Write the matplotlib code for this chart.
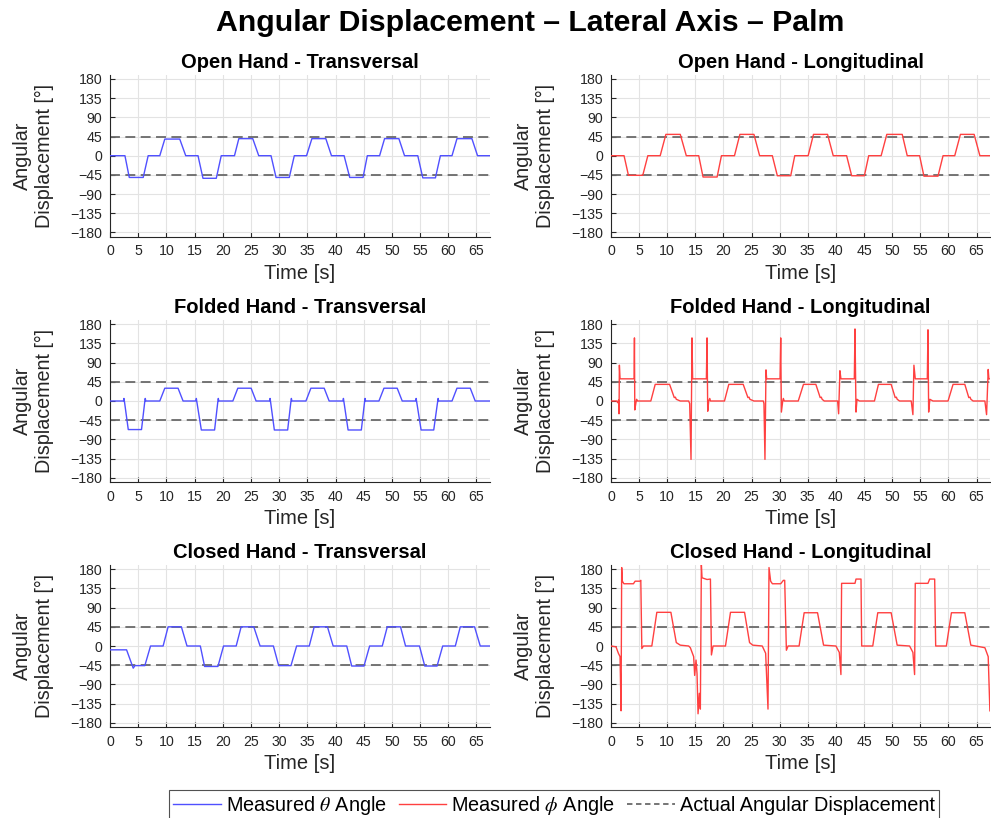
import matplotlib
matplotlib.use("Agg")
import matplotlib.pyplot as plt
from matplotlib.lines import Line2D

plt.rcParams['font.family'] = ['Liberation Sans', 'DejaVu Sans']
plt.rcParams['mathtext.fontset'] = 'stix'
plt.rcParams['axes.unicode_minus'] = True

# ---------------- data ----------------
SUPTITLE = "Angular Displacement \u2013 Lateral Axis \u2013 Palm"
TITLES = ["Open Hand - Transversal", "Open Hand - Longitudinal",
          "Folded Hand - Transversal", "Folded Hand - Longitudinal",
          "Closed Hand - Transversal", "Closed Hand - Longitudinal"]
XTICKS = [0, 5, 10, 15, 20, 25, 30, 35, 40, 45, 50, 55, 60, 65]
YTICKS = [-180, -135, -90, -45, 0, 45, 90, 135, 180]
REF_LEVELS = [45, -45]
LEGEND_LABELS = [r"Measured $\theta$ Angle", r"Measured $\phi$ Angle",
                 "Actual Angular Displacement"]

# Open hand - transversal (theta)
T_OPEN_TRANS = [0, 2.65, 3.42, 5.89, 6.77, 8.83, 9.72, 12.37, 13.43, 15.61, 16.49, 18.85,
                19.73, 22.08, 22.85, 25.32, 26.38, 28.56, 29.45, 31.80, 32.69, 34.86, 35.81,
                38.28, 39.28, 41.52, 42.52, 44.88, 45.64, 47.82, 48.70, 51.24, 52.24, 54.59,
                55.48, 57.72, 58.60, 60.66, 61.54, 64.19, 65.19, 67.4]
V_OPEN_TRANS = [0, 0, -51, -51, 0, 0, 39, 39, 0, 0, -53, -53, 0, 0, 40, 40, 0, 0,
                -51, -51, 0, 0, 40, 40, 0, 0, -51, -51, 0, 0, 40, 40, 0, 0,
                -52, -52, 0, 0, 40, 40, 0, 0]

# Open hand - longitudinal (phi)
T_OPEN_LONG = [0, 2.32, 3.10, 5.65, 6.55, 8.75, 9.76, 12.32, 13.39, 15.60, 16.37, 18.87,
               19.64, 21.96, 22.92, 25.42, 26.43, 28.69, 29.58, 31.96, 32.68, 35.06, 36.01,
               38.51, 39.52, 41.90, 42.80, 45.06, 45.83, 48.04, 49.05, 51.79, 52.68, 54.88,
               55.65, 58.15, 59.05, 61.13, 62.14, 64.58, 65.60, 67.4]
V_OPEN_LONG = [0, 0, -46, -46, 0, 0, 50, 50, 0, 0, -50, -50, 0, 0, 50, 50, 0, 0,
               -47, -47, 0, 0, 50, 50, 0, 0, -47, -47, 0, 0, 50, 50, 0, 0,
               -48, -48, 0, 0, 50, 50, 0, 0]

# Folded hand - transversal (theta)
T_FOLD_TRANS = [0, 2.40, 2.47, 2.55, 3.24, 5.59, 6.18, 6.25, 6.35, 8.83, 9.72, 12.07, 12.96,
                15.24, 15.31, 15.38, 16.20, 18.55, 19.14, 19.21, 19.30, 21.79, 22.67, 25.03, 25.91,
                28.32, 28.39, 28.46, 29.15, 31.51, 32.10, 32.17, 32.26, 34.75, 35.63, 37.99, 38.87,
                41.33, 41.40, 41.47, 42.23, 44.58, 45.17, 45.24, 45.33, 47.70, 48.59, 50.94, 51.83,
                54.23, 54.30, 54.37, 55.18, 57.42, 58.13, 58.20, 58.29, 60.66, 61.54, 63.90, 64.78,
                67.4]
V_FOLD_TRANS = [0, 0, 6, 0, -67, -67, 0, 6, 0, 0, 30, 30, 0,
                0, 6, 0, -68, -68, 0, 6, 0, 0, 30, 30, 0,
                0, 6, 0, -68, -68, 0, 6, 0, 0, 30, 30, 0,
                0, 6, 0, -68, -68, 0, 6, 0, 0, 30, 30, 0,
                0, 6, 0, -68, -68, 0, 6, 0, 0, 30, 30, 0,
                0]

# Folded hand - longitudinal (phi)
T_FOLD_LONG = [0, 1.01, 1.20, 1.35, 1.43, 1.49, 1.61, 3.99, 4.11, 4.17, 4.23, 4.46, 4.55, 4.70,
               7.08, 7.86, 10.42, 11.25, 11.45, 11.61, 12.32, 13.81, 13.99, 14.23, 14.40, 14.52,
               16.96, 17.08, 17.20, 17.38, 17.56, 17.70, 20.18, 20.95, 23.51, 24.35, 24.55, 24.70,
               25.42, 27.08, 27.20, 27.38, 27.56, 27.68, 30.06, 30.18, 30.30, 30.54, 30.65, 30.80,
               33.30, 34.23, 36.43, 37.20, 37.40, 37.55, 37.92, 40.30, 40.48, 40.71, 40.89, 43.27,
               43.39, 43.57, 43.75, 44.17, 46.85, 47.56, 49.82, 50.54, 50.75, 50.90, 51.31, 53.39,
               53.69, 53.87, 54.11, 56.25, 56.37, 56.49, 56.70, 57.26, 59.94, 60.83, 62.92, 63.63,
               63.85, 64.00, 64.40, 66.49, 66.79, 67.08, 67.20, 67.4]
V_FOLD_LONG = [0, 0, -4, 2, -30, 84, 52, 52, 53, 148, -21, -2, 4, 0,
               0, 39, 39, 8, 9, 4, 0, 0, -6, -137, 148, 52,
               52, 148, -24, 0, 6, 0, 0, 39, 39, 8, 9, 4,
               0, 0, -6, -137, 73, 52, 52, 148, -26, 0, 6, 0,
               0, 39, 39, 8, 9, 4, 0, 0, -30, 71, 52, 52,
               169, -26, 4, 0, 0, 39, 39, 8, 9, 4, 0, 0,
               -32, 84, 52, 52, 167, -26, 4, 0, 0, 39, 39, 8,
               9, 4, 0, 0, -32, 74, 52, 52]

# Closed hand - transversal (theta)
T_CLOSED_TRANS = [0, 2.94, 4.12, 4.42, 6.18, 7.19, 9.42, 10.31, 12.66, 13.66, 16.02, 16.78,
                  19.14, 20.14, 22.38, 23.26, 25.50, 26.62, 28.98, 29.92, 32.10, 33.10, 35.34,
                  36.22, 38.57, 39.58, 41.99, 42.87, 45.05, 46.05, 48.29, 49.18, 51.53, 52.42,
                  54.89, 55.83, 58.01, 59.01, 61.25, 62.13, 64.66, 65.67, 67.4]
V_CLOSED_TRANS = [-9, -9, -52, -46, -46, 0, 0, 45, 45, 0, 0, -48,
                  -48, 0, 0, 45, 45, 0, 0, -46, -46, 0, 0,
                  45, 45, 0, 0, -47, -47, 0, 0, 45, 45, 0,
                  0, -47, -47, 0, 0, 45, 45, 0, 0]

# Closed hand - longitudinal (phi)
T_CLOSED_LONG = [0, 0.89, 1.31, 1.61, 1.79, 1.90, 2.02, 2.30, 3.99, 4.29, 5.18, 5.30, 5.48, 5.77,
                 7.26, 8.15, 10.65, 11.61, 12.32, 13.81, 14.11, 14.70, 14.88, 15.12, 15.30, 15.48,
                 15.71, 15.89, 16.07, 16.19, 17.08, 17.68, 17.86, 18.15, 20.36, 21.25, 23.75, 24.64,
                 25.20, 26.90, 27.50, 27.92, 28.10, 28.39, 28.70, 30.18, 30.65, 30.89, 31.19, 31.49,
                 33.45, 34.35, 36.73, 37.80, 40.00, 40.60, 40.89, 41.01, 43.39, 43.57, 44.46, 44.58,
                 46.55, 47.44, 49.82, 50.89, 53.10, 53.69, 53.99, 54.11, 56.37, 56.67, 57.56, 57.74,
                 59.64, 60.54, 62.92, 63.99, 66.49, 67.08, 67.38]
V_CLOSED_LONG = [0, -2, -17, -25, -152, 184, 152, 146, 146, 152, 152, 154, -6, 0,
                 0, 79, 79, 8, 2, 0, -4, -25, -69, -33, -65, -159,
                 -111, -148, 190, 160, 156, 157, -21, 0, 0, 79, 79, 8,
                 2, 0, -17, -148, 184, 152, 146, 146, 154, 154, -10, 0,
                 0, 78, 78, 2, 0, -15, -67, 147, 147, 157, 157, 0,
                 0, 78, 78, 2, 0, -15, -67, 147, 147, 157, 157, 0,
                 0, 78, 78, 2, -4, -25, -152]

SERIES = [(T_OPEN_TRANS, V_OPEN_TRANS, 'theta'), (T_OPEN_LONG, V_OPEN_LONG, 'phi'),
          (T_FOLD_TRANS, V_FOLD_TRANS, 'theta'), (T_FOLD_LONG, V_FOLD_LONG, 'phi'),
          (T_CLOSED_TRANS, V_CLOSED_TRANS, 'theta'), (T_CLOSED_LONG, V_CLOSED_LONG, 'phi')]

# ---------------- styling ----------------
W, H = 991, 818
BLUE = '#5050ff'
RED = '#ff4040'
DASH = '#6a6a6a'
AXC = '#262626'
GRIDC = '#e3e3e3'

fig = plt.figure(figsize=(W / 100, H / 100), dpi=100)

col_left = [110 / W, 611 / W]
col_width = [380 / W, 379 / W]
row_top_px = [74.7, 320.0, 565.0]
ax_h_px = 162.0

for i, (t, v, kind) in enumerate(SERIES):
    r, c = divmod(i, 2)
    bottom = 1 - (row_top_px[r] + ax_h_px) / H
    ax = fig.add_axes([col_left[c], bottom, col_width[c], ax_h_px / H])
    ax.plot(t, v, color=BLUE if kind == 'theta' else RED, lw=1.0, zorder=3)
    for lvl in REF_LEVELS:
        ax.axhline(lvl, color=DASH, lw=1.3, dashes=(5.5, 3), zorder=2)
    ax.set_xlim(0, 67.4)
    ax.set_ylim(-190, 190)
    ax.set_xticks(XTICKS)
    ax.set_yticks(YTICKS)
    ax.grid(True, color=GRIDC, lw=0.8, zorder=0)
    ax.set_axisbelow(True)
    for s in ['top', 'right']:
        ax.spines[s].set_visible(False)
    for s in ['left', 'bottom']:
        ax.spines[s].set_color(AXC)
        ax.spines[s].set_linewidth(0.8)
    ax.tick_params(direction='in', length=3.5, width=0.8, color=AXC,
                   labelcolor=AXC, labelsize=10.2, pad=5.5)
    ax.set_title(TITLES[i], fontsize=14.5, fontweight='bold', pad=5, color='black')
    ax.set_xlabel("Time [s]", fontsize=14.5, color=AXC, labelpad=4)
    ax.set_ylabel("Angular\nDisplacement [\u00b0]", fontsize=14.2, color=AXC,
                  labelpad=12, linespacing=1.2)

fig.text(530 / W, 1 - 23 / H, SUPTITLE, ha='center', va='center',
         fontsize=21.8, fontweight='bold')

handles = [Line2D([], [], color=BLUE, lw=1.0),
           Line2D([], [], color=RED, lw=1.0),
           Line2D([], [], color=DASH, lw=1.3, dashes=(3, 2))]
leg = fig.legend(handles, LEGEND_LABELS, loc='lower center', ncol=3,
                 bbox_to_anchor=(554 / W, -0.004), fontsize=14.3, frameon=True,
                 fancybox=False, edgecolor=AXC, handlelength=2.4, handletextpad=0.25,
                 columnspacing=0.6, borderpad=0.2, borderaxespad=0)
leg.get_frame().set_linewidth(0.8)

fig.savefig("out.png", dpi=100)
